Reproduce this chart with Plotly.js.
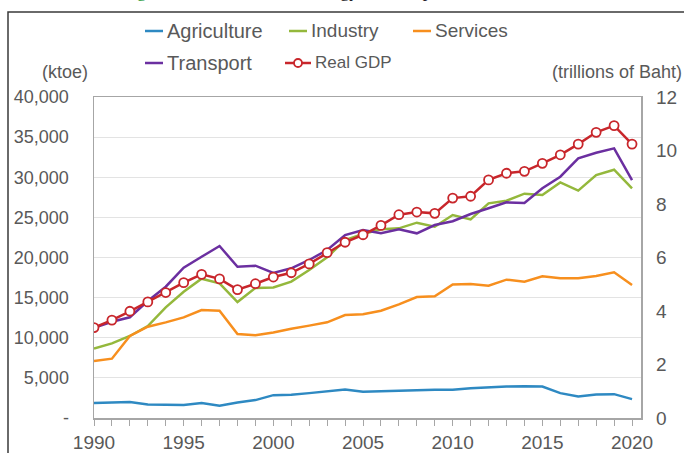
<!DOCTYPE html>
<html>
<head>
<meta charset="utf-8">
<script src="https://cdn.plot.ly/plotly-3.0.1.min.js"></script>
<style>html,body{margin:0;padding:0;background:#fff;overflow:hidden}#chart{width:684px;height:453px}</style>
</head>
<body>
<div id="chart"></div>
<script>
var years = [1990,1991,1992,1993,1994,1995,1996,1997,1998,1999,2000,2001,2002,2003,2004,2005,2006,2007,2008,2009,2010,2011,2012,2013,2014,2015,2016,2017,2018,2019,2020];
var agriculture = [1860,1900,1980,1690,1610,1610,1860,1530,1940,2230,2850,2890,3100,3350,3550,3260,3350,3470,3470,3510,3510,3720,3840,3920,3960,3920,3100,2680,2930,2970,2350];
var industry = [8640,9300,10220,11460,13790,15740,17360,16780,14450,16200,16260,16990,18440,20020,22180,22930,23510,23630,24340,23840,25300,24750,26750,27080,27950,27790,29360,28330,30280,30940,28620];
var services = [7100,7390,10220,11380,11920,12540,13460,13370,10470,10300,10650,11130,11510,11920,12830,12920,13370,14160,15080,15160,16650,16700,16490,17240,16990,17650,17400,17400,17690,18150,16570];
var transport = [11250,12000,12550,14580,16360,18730,20100,21430,18850,18980,18070,18650,19690,20930,22800,23420,23010,23510,23010,24050,24520,25420,26130,26870,26790,28620,30070,32350,33060,33600,29650];
var realGDP = [3.38,3.66,3.99,4.34,4.69,5.06,5.37,5.20,4.80,5.02,5.27,5.43,5.76,6.18,6.57,6.85,7.20,7.60,7.70,7.65,8.22,8.29,8.90,9.15,9.22,9.52,9.84,10.24,10.68,10.93,10.24];

var leftTickVals = [0,5000,10000,15000,20000,25000,30000,35000,40000];
var leftTickText = ['-','5,000','10,000','15,000','20,000','25,000','30,000','35,000','40,000'];
var rightTickVals = [0,2,4,6,8,10,12];
var xTickVals = [1990,1995,2000,2005,2010,2015,2020];

var colors = {Agriculture:'#2E89C2', Industry:'#94B83C', Services:'#F78F1E', Transport:'#6B2FA0', 'Real GDP':'#C8262B'};

var W = 684, H = 453, L = 94, R = 641, T = 97, B = 418;
function px(x){ return (x - L) / (R - L); }
function py(y){ return (B - y) / (B - T); }

var traces = [
  {x: years, y: agriculture, name: 'Agriculture', type: 'scatter', mode: 'lines', line: {color: colors.Agriculture, width: 2.5}},
  {x: years, y: industry, name: 'Industry', type: 'scatter', mode: 'lines', line: {color: colors.Industry, width: 2.5}},
  {x: years, y: services, name: 'Services', type: 'scatter', mode: 'lines', line: {color: colors.Services, width: 2.5}},
  {x: years, y: transport, name: 'Transport', type: 'scatter', mode: 'lines', line: {color: colors.Transport, width: 2.5}},
  {x: years, y: realGDP, name: 'Real GDP', type: 'scatter', mode: 'lines+markers', yaxis: 'y2',
   line: {color: colors['Real GDP'], width: 2.5},
   marker: {symbol: 'circle', size: 9, color: '#ffffff', line: {color: colors['Real GDP'], width: 1.8}}}
];
traces.forEach(function(t){ t.showlegend = false; t.hoverinfo = 'skip'; });

var fam = 'Liberation Sans, Arial, sans-serif';
var tickColor = '#595959';

// manual legend (Excel-like layout)
var legendItems = [
  {name: 'Agriculture', x: 145, y: 31, size: 20},
  {name: 'Industry', x: 289, y: 31, size: 19},
  {name: 'Services', x: 413, y: 31, size: 19},
  {name: 'Transport', x: 145, y: 63, size: 20},
  {name: 'Real GDP', x: 285, y: 63, size: 17}
];
var shapes = [];
var annotations = [];
legendItems.forEach(function(it){
  var len = it.name === 'Real GDP' ? 26 : 18;
  shapes.push({type: 'line', xref: 'paper', yref: 'paper', x0: px(it.x), x1: px(it.x + len), y0: py(it.y), y1: py(it.y),
    line: {color: colors[it.name], width: 2.5}});
  if (it.name === 'Real GDP') {
    var cx = it.x + len / 2;
    shapes.push({type: 'circle', xref: 'paper', yref: 'paper', x0: px(cx - 4), x1: px(cx + 4), y0: py(it.y + 4), y1: py(it.y - 4),
      fillcolor: '#ffffff', line: {color: colors[it.name], width: 1.8}});
  }
  annotations.push({xref: 'paper', yref: 'paper', x: px(it.x + len + 2), y: py(it.y), xanchor: 'left', yanchor: 'middle',
    text: it.name, showarrow: false, font: {family: fam, size: it.size, color: tickColor}});
});

// outer frame
shapes.push({type: 'rect', xref: 'paper', yref: 'paper', x0: px(8), x1: px(760), y0: py(12), y1: py(520),
  line: {color: '#3a3a3a', width: 1.5}, fillcolor: 'rgba(0,0,0,0)'});

annotations.push({xref: 'paper', yref: 'paper', x: px(40), y: py(72), xanchor: 'left', yanchor: 'middle',
  text: '(ktoe)', showarrow: false, font: {family: fam, size: 18, color: tickColor}});
annotations.push({xref: 'paper', yref: 'paper', x: px(684), y: py(72), xanchor: 'right', yanchor: 'middle',
  text: '(trillions of Baht)', showarrow: false, font: {family: fam, size: 18, color: tickColor}});

// cut-off figure caption at very top (only descenders visible)
annotations.push({xref: 'paper', yref: 'paper', x: px(120), y: py(3.5), xanchor: 'left', yanchor: 'bottom',
  text: 'Figure 1', showarrow: false,
  font: {family: 'Liberation Serif, serif', size: 18, color: '#2E9B3A'}});
annotations.push({xref: 'paper', yref: 'paper', x: px(263), y: py(3.5), xanchor: 'left', yanchor: 'bottom',
  text: 'Final Energy Consumption and Real GDP', showarrow: false,
  font: {family: 'Liberation Serif, serif', size: 18, color: '#222222'}});

var layout = {
  width: W, height: H,
  margin: {l: L, r: W - R, t: T, b: H - B, pad: 0},
  paper_bgcolor: '#ffffff', plot_bgcolor: '#ffffff',
  showlegend: false,
  xaxis: {
    range: [1990, 2020.5], tickvals: xTickVals, ticktext: xTickVals.map(String),
    ticks: 'outside', ticklen: 6, tickwidth: 1, tickcolor: '#A6A6A6',
    minor: {dtick: 1, tick0: 1990, ticks: 'outside', ticklen: 6, tickwidth: 1, tickcolor: '#A6A6A6', showgrid: false},
    showline: true, linecolor: '#A6A6A6', linewidth: 1.5, mirror: true,
    showgrid: false, zeroline: false, tickfont: {family: fam, size: 19, color: tickColor}, ticklabelstandoff: 1, fixedrange: true
  },
  yaxis: {
    range: [0, 40000], tickvals: leftTickVals, ticktext: leftTickText,
    ticks: '', showline: true, linecolor: '#A6A6A6', linewidth: 1.5, mirror: true,
    showgrid: true, gridcolor: '#E3E3E3', gridwidth: 1, zeroline: false,
    tickfont: {family: fam, size: 18, color: tickColor}, ticklabelstandoff: 20, fixedrange: true
  },
  yaxis2: {
    range: [0, 12], tickvals: rightTickVals, ticktext: rightTickVals.map(String),
    overlaying: 'y', side: 'right', ticks: '', showline: false, showgrid: false, zeroline: false,
    tickfont: {family: fam, size: 19, color: tickColor}, ticklabelstandoff: 14, fixedrange: true
  },
  shapes: shapes,
  annotations: annotations
};

Plotly.newPlot('chart', traces, layout, {staticPlot: true, displayModeBar: false});
</script>
</body>
</html>
